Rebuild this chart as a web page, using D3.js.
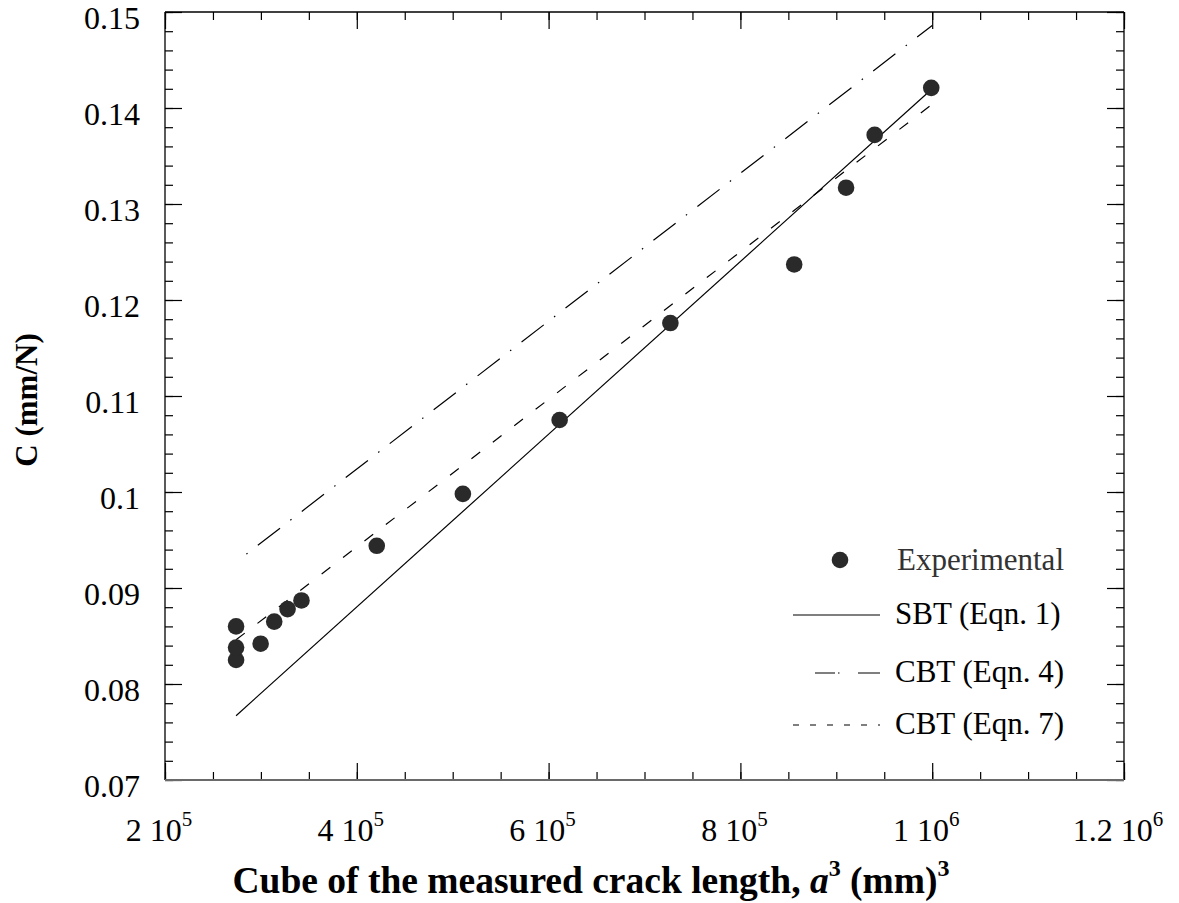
<!DOCTYPE html>
<html>
<head>
<meta charset="utf-8">
<script src="https://cdnjs.cloudflare.com/ajax/libs/d3/7.8.5/d3.min.js"></script>
<style>
  body { margin: 0; background: #fff; }
  svg { font-family: "Liberation Serif", "Times New Roman", serif; }
</style>
</head>
<body>
<svg id="chart" width="1179" height="903"></svg>
<script>
// experimental points: cube of crack length (mm^3) vs compliance (mm/N)
const crackCube = [274100, 274100, 274100, 299700, 313900, 327800, 342300, 420800,
  510600, 611500, 727000, 856100, 910200, 940000, 999000];
const compliance = [0.0825, 0.0838, 0.0860, 0.0842, 0.0865, 0.0878, 0.0887, 0.0944,
  0.0998, 0.1075, 0.1176, 0.1237, 0.1317, 0.1372, 0.1421];

// fitted lines (straight, two end points each)
const fitX = [274100, 1000000];
const sbtC = [0.0767, 0.1420];
const cbt4C = [0.0927, 0.1486];
const cbt7C = [0.0846, 0.1404];

// ticks
const xMajor = [200000, 400000, 600000, 800000, 1000000, 1200000];
const xLabels = [["2", "5"], ["4", "5"], ["6", "5"], ["8", "5"], ["1", "6"], ["1.2", "6"]];
const yMajor = [0.07, 0.08, 0.09, 0.1, 0.11, 0.12, 0.13, 0.14, 0.15];
const yLabels = ["0.07", "0.08", "0.09", "0.1", "0.11", "0.12", "0.13", "0.14", "0.15"];

const legendNames = ["Experimental", "SBT (Eqn. 1)", "CBT (Eqn. 4)", "CBT (Eqn. 7)"];

const svg = d3.select('#chart'),
  margin = { top: 12, right: 55, bottom: 123, left: 165 },
  width = 1179 - margin.left - margin.right,
  height = 903 - margin.top - margin.bottom;

const x = d3.scaleLinear().domain([200000, 1200000]).range([margin.left, margin.left + width]);
const y = d3.scaleLinear().domain([0.07, 0.15]).range([margin.top + height, margin.top]);

const xMinor = d3.range(200000, 1200001, 50000);
const yMinor = d3.range(0, 41).map(i => 0.07 + i * 0.002);

// tick marks, all pointing inward, on all four sides
function ticks(axis, vals, size, tr) {
  const g = svg.append('g').attr('transform', tr)
    .call(axis.tickValues(vals).tickSizeInner(size).tickSizeOuter(0).tickFormat(''));
  g.select('.domain').remove();
  g.selectAll('line').attr('stroke', '#000').attr('stroke-width', 1.2);
}
ticks(d3.axisBottom(x), xMinor, -8, `translate(0,${y(0.07)})`);
ticks(d3.axisBottom(x), xMajor, -17, `translate(0,${y(0.07)})`);
ticks(d3.axisTop(x), xMinor, -8, `translate(0,${y(0.15)})`);
ticks(d3.axisTop(x), xMajor, -17, `translate(0,${y(0.15)})`);
ticks(d3.axisLeft(y), yMinor, -8, `translate(${x(200000)},0)`);
ticks(d3.axisLeft(y), yMajor, -17, `translate(${x(200000)},0)`);
ticks(d3.axisRight(y), yMinor, -8, `translate(${x(1200000)},0)`);
ticks(d3.axisRight(y), yMajor, -17, `translate(${x(1200000)},0)`);

// frame
const frame = svg.append('g').attr('fill', 'none');
frame.append('line').attr('x1', x(200000)).attr('x2', x(1200000))
  .attr('y1', y(0.15)).attr('y2', y(0.15)).attr('stroke', '#000').attr('stroke-width', 1.3);
frame.append('line').attr('x1', x(200000)).attr('x2', x(200000))
  .attr('y1', y(0.15)).attr('y2', y(0.07)).attr('stroke', '#000').attr('stroke-width', 1.3);
frame.append('line').attr('x1', x(1200000)).attr('x2', x(1200000))
  .attr('y1', y(0.15)).attr('y2', y(0.07)).attr('stroke', '#000').attr('stroke-width', 1.3);
frame.append('line').attr('x1', x(200000)).attr('x2', x(1200000))
  .attr('y1', y(0.07)).attr('y2', y(0.07)).attr('stroke', '#6a6a6a').attr('stroke-width', 2);

// tick labels
const xl = svg.append('g').attr('font-size', 32).attr('text-anchor', 'middle');
xMajor.forEach((v, i) => {
  const t = xl.append('text').attr('x', x(v) - 6).attr('y', 841);
  t.append('tspan').text(xLabels[i][0] + ' 10');
  t.append('tspan').attr('font-size', 21).attr('dy', -15).text(xLabels[i][1]);
});
svg.append('g').attr('font-size', 32).attr('text-anchor', 'end')
  .selectAll('text').data(yMajor).join('text')
  .attr('x', x(200000) - 25)
  .attr('y', d => y(d) + 17)
  .text((d, i) => yLabels[i]);

// axis titles
const xt = svg.append('text').attr('x', 591).attr('y', 893)
  .attr('text-anchor', 'middle').attr('font-size', 37.5).attr('font-weight', 'bold');
xt.append('tspan').text('Cube of the measured crack length, ');
xt.append('tspan').attr('font-style', 'italic').text('a');
xt.append('tspan').attr('font-size', 24).attr('dy', -17).text('3');
xt.append('tspan').attr('dy', 17).text(' (mm)');
xt.append('tspan').attr('font-size', 24).attr('dy', -17).text('3');

svg.append('text')
  .attr('transform', 'translate(37,400) rotate(-90)')
  .attr('text-anchor', 'middle').attr('font-size', 31).attr('font-weight', 'bold')
  .text('C (mm/N)');

// fitted lines
const line = d3.line().x(d => x(d[0])).y(d => y(d[1]));
const fit = vals => fitX.map((v, i) => [v, vals[i]]);

svg.append('path').datum(fit(sbtC)).attr('d', line)
  .attr('fill', 'none').attr('stroke', '#000').attr('stroke-width', 1.2);
svg.append('path').datum(fit(cbt4C)).attr('d', line)
  .attr('fill', 'none').attr('stroke', '#000').attr('stroke-width', 1.2)
  .attr('stroke-dasharray', '28,13,1.5,13').attr('stroke-dashoffset', 28);
svg.append('path').datum(fit(cbt7C)).attr('d', line)
  .attr('fill', 'none').attr('stroke', '#000').attr('stroke-width', 1.2)
  .attr('stroke-dasharray', '11,16');

// experimental points
svg.append('g').selectAll('circle').data(crackCube).join('circle')
  .attr('cx', d => x(d))
  .attr('cy', (d, i) => y(compliance[i]))
  .attr('r', 8.3)
  .attr('fill', '#2a2a2a');

// legend
const lg = svg.append('g').attr('font-size', 31);
lg.append('circle').attr('cx', 840).attr('cy', 560).attr('r', 8.3).attr('fill', '#2a2a2a');
lg.append('text').attr('x', 897).attr('y', 570).attr('fill', '#333').text(legendNames[0]);

lg.append('line').attr('x1', 793).attr('x2', 880).attr('y1', 615).attr('y2', 615)
  .attr('stroke', '#000').attr('stroke-width', 1.2);
lg.append('text').attr('x', 895).attr('y', 624).text(legendNames[1]);

lg.append('line').attr('x1', 815).attr('x2', 880).attr('y1', 673).attr('y2', 673)
  .attr('stroke', '#000').attr('stroke-width', 1.2)
  .attr('stroke-dasharray', '20,3,1.5,18.5,22');
lg.append('text').attr('x', 895).attr('y', 682).text(legendNames[2]);

lg.append('line').attr('x1', 793).attr('x2', 880).attr('y1', 725).attr('y2', 725)
  .attr('stroke', '#000').attr('stroke-width', 1.2)
  .attr('stroke-dasharray', '6,11');
lg.append('text').attr('x', 895).attr('y', 734).text(legendNames[3]);
</script>
</body>
</html>
